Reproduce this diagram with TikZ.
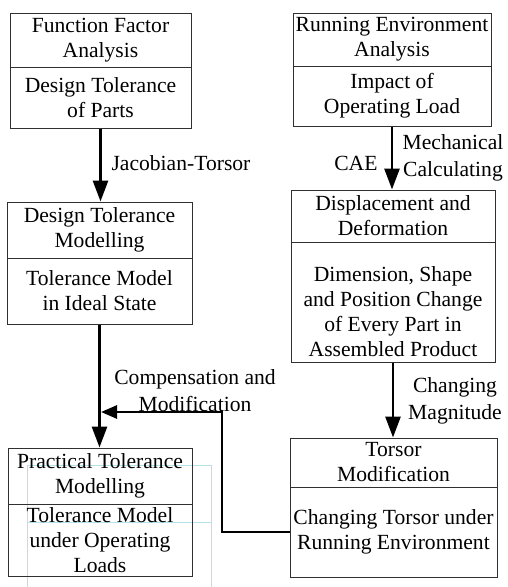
\documentclass[tikz,border=0pt]{standalone}
\usepackage{fontspec}
\setmainfont{Liberation Serif}
\usetikzlibrary{arrows.meta, positioning}
\definecolor{mGuideCyan}{HTML}{B4E1EA}
\definecolor{mBorder}{HTML}{303030}

\begin{document}
\begin{tikzpicture}[x=1pt, y=-1pt,
    part/.style={draw=mBorder, line width=1pt, align=center, inner sep=0pt,
      font=\fontsize{21.6}{25}\selectfont},
    flow/.style={line width=2.8pt, -{Triangle[length=21pt, width=15pt]}},
    lbl/.style={font=\fontsize{21.6}{27}\selectfont, align=center}]
  \useasboundingbox (0,0) rectangle (507,587);
  % faint frame guides
  \draw[mGuideCyan, line width=0.6pt] (27,587) -- (27,465) -- (211,465) -- (211,587);
  \draw[mGuideCyan, line width=0.6pt] (27,522) -- (211,522);

  % left column
  \node[part, minimum width=181pt, minimum height=54pt] (ffa) at (100.5,40) {Function Factor\\Analysis};
  \node[part, minimum width=181pt, minimum height=61pt] (dtp) at (100.5,97.5) {Design Tolerance\\of Parts};
  \node[part, minimum width=185pt, minimum height=56pt] (dtm) at (99.5,230) {Design Tolerance\\Modelling};
  \node[part, minimum width=185pt, minimum height=66pt] (tmi) at (99.5,291) {Tolerance Model\\in Ideal State};
  \node[part, minimum width=184pt, minimum height=56pt] (ptm) at (100,476) {Practical Tolerance\\Modelling};
  \node[part, minimum width=184pt, minimum height=72pt] (tmo) at (100,540) {Tolerance Model\\under Operating\\Loads};

  % right column
  \node[part, minimum width=198pt, minimum height=53pt] (rea) at (392,39.5) {Running Environment\\Analysis};
  \node[part, minimum width=198pt, minimum height=60pt] (iol) at (392,96) {Impact of\\Operating Load};
  \node[part, minimum width=204pt, minimum height=52pt] (dad) at (393,216) {Displacement and\\Deformation};
  \node[part, minimum width=204pt, minimum height=120pt] (dsp) at (393,302) {};
  \node[part, draw=none] (dspt) at (393,312) {Dimension, Shape\\and Position Change\\of Every Part in\\Assembled Product};
  \node[part, minimum width=207pt, minimum height=49pt] (tm) at (393.5,462.5) {Torsor\\Modification};
  \node[part, minimum width=207pt, minimum height=90pt] (ctr) at (393.5,532) {Changing Torsor under\\Running Environment};

  % connectors
  \draw[flow] (dtp.south) -- (dtp.south |- dtm.north);
  \draw[flow] (tmi.south) -- (tmi.south |- ptm.north);
  \draw[flow] (iol.south) -- (iol.south |- dad.north);
  \draw[flow] (dsp.south) -- (dsp.south |- tm.north);
  \coordinate (bend) at (222,412);
  \draw[flow, -{Triangle[length=16pt, width=13pt]}] (ctr.west) -| (bend) -- ([xshift=1.5pt]tmi.south |- bend);

  % connector labels
  \node[lbl, anchor=west] (jt) at (108,163) {Jacobian-Torsor};
  \node[lbl, anchor=east] (cae) at (381,163) {CAE};
  \node[lbl] (mc) at (453,158) {Mechanical\\Calculating};
  \node[lbl] (cm) at (195,391) {Compensation and\\Modification};
  \node[lbl] (cmg) at (455,401) {Changing\\Magnitude};
\end{tikzpicture}
\end{document}
